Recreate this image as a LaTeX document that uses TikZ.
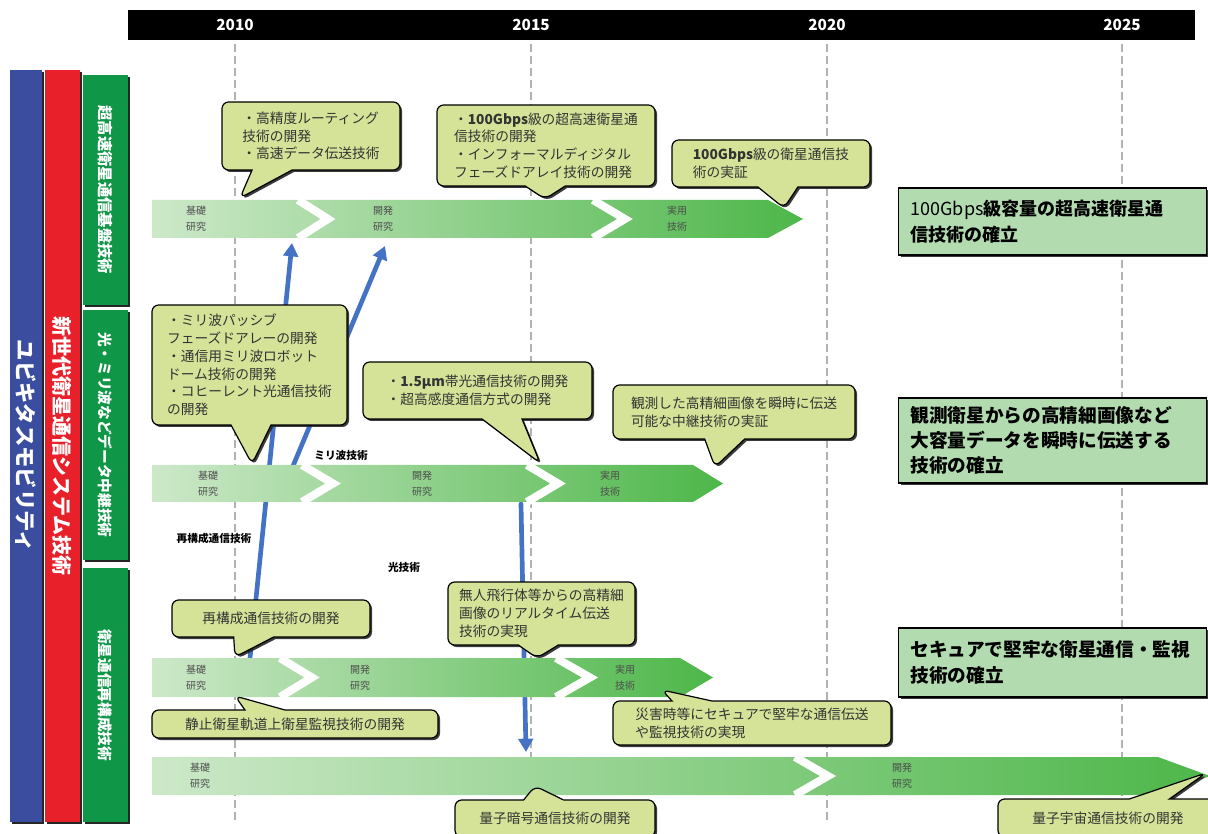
\documentclass[tikz,border=0pt]{standalone}
\usepackage{fontspec}
\setmainfont{Noto Sans CJK JP}
\usepackage{tikz}
\usetikzlibrary{positioning}
\usetikzlibrary{shapes.callouts,shadows,arrows.meta}

\definecolor{memofill}{HTML}{D4E398}
\definecolor{goalfill}{HTML}{B2DBB0}
\definecolor{ribbonlo}{HTML}{CDE8C9}
\definecolor{ribbonhi}{HTML}{4DB749}
\definecolor{colblue}{HTML}{3A4D9F}
\definecolor{colred}{HTML}{E8202A}
\definecolor{colgreen}{HTML}{0F9647}
\definecolor{linkblue}{HTML}{4472C4}

\begin{document}
\begin{tikzpicture}
  [x=0.75pt, y=-0.75pt,
   memo/.style={rectangle callout, rounded corners=5pt, draw=black, line width=0.9pt,
     fill=memofill, text=black!80, font=\fontsize{10.3}{13.3}\selectfont, align=left,
     inner sep=2pt, callout pointer width=30pt,
     drop shadow={shadow xshift=1.5pt, shadow yshift=-1.5pt, opacity=0.9, fill=black!85}},
   goal/.style={draw=black, line width=0.9pt, fill=goalfill,
     font=\bfseries\fontsize{14}{19}\selectfont, align=left, text width=213pt,
     inner xsep=9pt, inner ysep=3pt,
     drop shadow={shadow xshift=1.5pt, shadow yshift=-1.5pt, opacity=0.9, fill=black!85}},
   band/.style={rotate=-90, inner sep=0pt, text=white,
     drop shadow={shadow xshift=1.5pt, shadow yshift=-1.5pt, opacity=1, fill=black!85}},
   phase/.style={align=center, text=black!70, font=\fontsize{7.5}{12}\selectfont},
   tag/.style={font=\bfseries\fontsize{8}{9}\selectfont},
   chevron/.style={draw=white, line width=6pt, line join=miter},
   link/.style={draw=linkblue, line width=3.5pt, line cap=round,
     -{Triangle[length=10pt,width=11pt]}},
   yearline/.style={draw=black!30, line width=1.5pt, dash pattern=on 6pt off 3pt},
   yeartext/.style={text=white, font=\bfseries\fontsize{11.5}{12}\selectfont}]

  \useasboundingbox (0,0) rectangle (1208,834);

  % year grid
  \foreach \yr/\xx in {2010/235,2015/531,2020/827,2025/1122}
    \draw[yearline] (\xx,44) -- (\xx,822);

  % links between the rows
  \coordinate (upA) at (292,243);
  \coordinate (lowC) at (250,658);
  \coordinate (upA2) at (385,246);
  \coordinate (lowB) at (293,466);
  \coordinate (lowB2) at (521,504);
  \coordinate (topD) at (526,752);
  \draw[link] (lowC) -- (upA);
  \draw[link] (lowB) -- (upA2);
  \draw[link] (lowB2) -- (topD);

  % phase ribbons
  \shade[left color=ribbonlo, right color=ribbonhi]
    (152,200) -- (768,200) -- (803,219) -- (768,238) -- (152,238) -- cycle;
  \draw[chevron] (298,200) -- (328,219) -- (298,238);
  \draw[chevron] (593,200) -- (625,219) -- (593,238);

  \shade[left color=ribbonlo, right color=ribbonhi]
    (152,465) -- (693,465) -- (723,483.5) -- (693,502) -- (152,502) -- cycle;
  \draw[chevron] (302,465) -- (333,483.5) -- (302,502);
  \draw[chevron] (527,465) -- (558,483.5) -- (527,502);

  \shade[left color=ribbonlo, right color=ribbonhi]
    (152,658) -- (680,658) -- (713,677.5) -- (680,697) -- (152,697) -- cycle;
  \draw[chevron] (280,658) -- (312,677.5) -- (280,697);
  \draw[chevron] (556,658) -- (590,677.5) -- (556,697);

  \shade[left color=ribbonlo, right color=ribbonhi]
    (152,757) -- (1158,757) -- (1210,776) -- (1158,795) -- (152,795) -- cycle;
  \draw[chevron] (795,757) -- (828,776) -- (795,795);

  \node[phase] (pa1) at (196,219) {基礎\\研究};
  \node[phase] (pa2) at (383,219) {開発\\研究};
  \node[phase] (pa3) at (677,219) {実用\\技術};
  \node[phase] (pb1) at (208,484) {基礎\\研究};
  \node[phase] (pb2) at (422,484) {開発\\研究};
  \node[phase] (pb3) at (610,484) {実用\\技術};
  \node[phase] (pc1) at (196,678) {基礎\\研究};
  \node[phase] (pc2) at (360,678) {開発\\研究};
  \node[phase] (pc3) at (625,678) {実用\\技術};
  \node[phase] (pd1) at (200,776) {基礎\\研究};
  \node[phase] (pd2) at (902,776) {開発\\研究};

  \node[tag] (tagmm) at (341,455) {ミリ波技術};
  \node[tag] (tagrc) at (214,538) {再構成通信技術};
  \node[tag] (tagop) at (404,567) {光技術};

  % callouts
  \node[memo, minimum width=133.5pt, minimum height=51pt,
    callout absolute pointer={(240,198)}] (memoA1) at (311,136)
    {・高精度ルーティング\\技術の開発\\・高速データ伝送技術};
  \node[memo, minimum width=163.5pt, minimum height=60.75pt,
    callout absolute pointer={(545,199)}] (memoA2) at (546,145.5)
    {・\textbf{100Gbps}級の超高速衛星通\\信技術の開発\\・インフォーマルディジタル\\フェーズドアレイ技術の開発};
  \node[memo, minimum width=148.5pt, minimum height=35.25pt,
    callout absolute pointer={(784,208)}] (memoA3) at (771,163.5)
    {\textbf{100Gbps}級の衛星通信技\\術の実証};

  \node[memo, minimum width=146.25pt, minimum height=90pt,
    callout absolute pointer={(252,464)}] (memoB1) at (249.5,365)
    {・ミリ波パッシブ\\フェーズドアレーの開発\\・通信用ミリ波ロボット\\ドーム技術の開発\\・コヒーレント光通信技術\\の開発};
  \node[memo, minimum width=171.75pt, minimum height=42.75pt,
    callout absolute pointer={(540,463)}] (memoB2) at (477.5,390.5)
    {・\textbf{1.5μm}帯光通信技術の開発\\・超高感度通信方式の開発};
  \node[memo, minimum width=181.5pt, minimum height=40.5pt,
    callout absolute pointer={(715,467)}] (memoB3) at (734,412)
    {観測した高精細画像を瞬時に伝送\\可能な中継技術の実証};

  \node[memo, minimum width=148.5pt, minimum height=27.75pt,
    callout absolute pointer={(235,657)}] (memoC1) at (271,618.5)
    {再構成通信技術の開発};
  \node[memo, minimum width=214.5pt, minimum height=21pt,
    callout absolute pointer={(235,696)}] (memoC2) at (295,724)
    {静止衛星軌道上衛星監視技術の開発};
  \node[memo, minimum width=140.25pt, minimum height=47.25pt,
    callout absolute pointer={(537,658)}] (memoC3) at (541.5,613.5)
    {無人飛行体等からの高精細\\画像のリアルタイム伝送\\技術の実現};
  \node[memo, minimum width=208.5pt, minimum height=33pt,
    callout absolute pointer={(662,690)}] (memoC4) at (752,723)
    {災害時等にセキュアで堅牢な通信伝送\\や監視技術の実現};

  \node[memo, minimum width=150pt, minimum height=27.75pt,
    callout absolute pointer={(535,786)}] (memoD1) at (555,818.5)
    {量子暗号通信技術の開発};
  \node[memo, minimum width=165pt, minimum height=28.5pt,
    callout absolute pointer={(1206,773)}] (memoD2) at (1108,818)
    {量子宇宙通信技術の開発};

  % goals
  \node[goal, minimum height=50.25pt] (goalA) at (1052.5,221.5)
    {\fontsize{13.5}{19}\selectfont{\mdseries 100Gbps}級容量の超高速衛星通\\信技術の確立};
  \node[goal, minimum height=63.75pt] (goalB) at (1052.5,440.5)
    {観測衛星からの高精細画像など\\大容量データを瞬時に伝送する\\技術の確立};
  \node[goal, minimum height=51.75pt] (goalC) at (1052.5,662.5)
    {セキュアで堅牢な衛星通信・監視\\技術の確立};

  % category columns
  \node[band, fill=colblue, minimum width=564pt, minimum height=24pt,
    font=\bfseries\fontsize{16}{17}\selectfont] (ubiq) at (26,446) {ユビキタスモビリティ};
  \node[band, fill=colred, minimum width=564pt, minimum height=26pt,
    font=\bfseries\fontsize{15}{16}\selectfont] (nextgen) at (62.5,446) {新世代衛星通信システム技術};
  \node[band, fill=colgreen, minimum width=172.5pt, minimum height=33.75pt,
    font=\bfseries\fontsize{11.5}{12}\selectfont] (techA) at (105.5,190) {超高速衛星通信基盤技術};
  \node[band, fill=colgreen, minimum width=187.5pt, minimum height=33.75pt,
    font=\bfseries\fontsize{11}{12}\selectfont] (techB) at (105.5,435) {光・ミリ波などデータ中継技術};
  \node[band, fill=colgreen, minimum width=190.5pt, minimum height=33.75pt,
    font=\bfseries\fontsize{11}{12}\selectfont] (techC) at (105.5,695) {衛星通信再構成技術};

  % time axis
  \fill[black] (128,10) rectangle (1195,40);
  \foreach \yr/\xx in {2010/235,2015/531,2020/827,2025/1122}
    \node[yeartext] (y\yr) at (\xx,25) {\yr};

\end{tikzpicture}
\end{document}
